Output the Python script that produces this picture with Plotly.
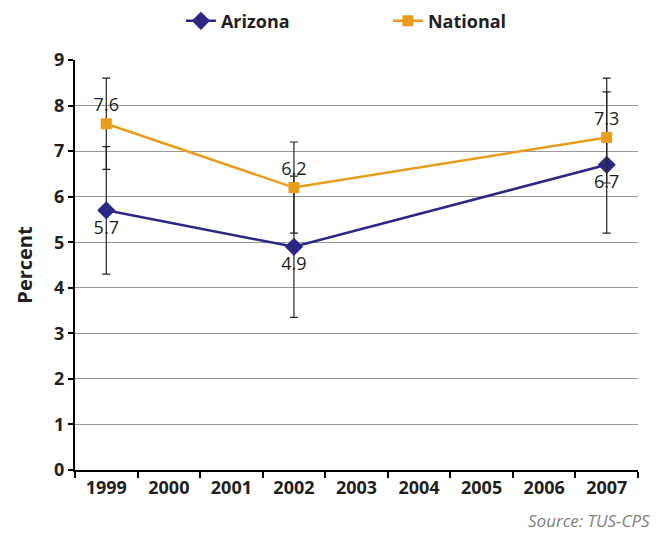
import plotly.graph_objects as go

years = ["1999", "2000", "2001", "2002", "2003", "2004", "2005", "2006", "2007"]
data_years = ["1999", "2002", "2007"]
arizona = [5.7, 4.9, 6.7]
arizona_err_plus = [1.4, 1.55, 1.9]
arizona_err_minus = [1.4, 1.55, 1.5]
national = [7.6, 6.2, 7.3]
national_err_plus = [1.0, 1.0, 1.0]
national_err_minus = [1.0, 1.0, 1.0]
arizona_labels = ["5.7", "4.9", "6.7"]
national_labels = ["7.6", "6.2", "7.3"]

FONT = "Open Sans"
NAVY = "#2B2883"
ORANGE = "#E89C1C"
TXT = "#231F20"

fig = go.Figure()
fig.add_trace(go.Scatter(
    x=data_years, y=arizona, name="Arizona", mode="lines+markers+text",
    line=dict(color=NAVY, width=2.5),
    marker=dict(symbol="diamond", size=14, color=NAVY),
    text=arizona_labels, textposition="bottom center",
    textfont=dict(family=FONT, size=18, color=TXT),
    error_y=dict(type="data", symmetric=False, array=arizona_err_plus,
                 arrayminus=arizona_err_minus, color="#222222", thickness=1.2, width=4),
))
fig.add_trace(go.Scatter(
    x=data_years, y=national, name="National", mode="lines+markers+text",
    line=dict(color=ORANGE, width=2.5),
    marker=dict(symbol="square", size=11, color=ORANGE),
    text=national_labels, textposition="top center",
    textfont=dict(family=FONT, size=18, color=TXT),
    error_y=dict(type="data", symmetric=False, array=national_err_plus,
                 arrayminus=national_err_minus, color="#222222", thickness=1.2, width=4),
))

# page body has an 8px default margin, so the figure is drawn 8px smaller
fig.update_layout(
    width=655, height=525,
    margin=dict(l=67, r=25, t=52, b=63, autoexpand=False),
    paper_bgcolor="white", plot_bgcolor="white",
    font=dict(family=FONT, color=TXT),
    legend=dict(orientation="h", xref="container", yref="container",
                x=0.264, xanchor="left", y=0.975, yanchor="middle",
                entrywidth=162,
                font=dict(family=FONT, size=18, color=TXT, weight="bold")),
    showlegend=True,
)
fig.update_xaxes(
    type="category", categoryorder="array", categoryarray=years,
    range=[-0.5, 8.5], tickson="boundaries", ticks="outside", ticklen=6,
    tickcolor="black", tickwidth=1.5, automargin=False,
    showline=True, linecolor="black", linewidth=2, showgrid=False,
    tickfont=dict(family=FONT, size=18, color=TXT, weight="bold"),
)
fig.update_yaxes(
    range=[0, 9], dtick=1, ticks="outside", ticklen=5, tickcolor="black", tickwidth=1.5,
    showline=True, linecolor="black", linewidth=2, automargin=False,
    showgrid=True, gridcolor="#999999", gridwidth=1, zeroline=False,
    tickfont=dict(family=FONT, size=18, color=TXT, weight="bold"),
    title=dict(text="Percent", font=dict(family=FONT, size=20, color=TXT, weight="bold"),
               standoff=16),
)
fig.add_annotation(
    text="<i>Source: TUS-CPS</i>", xref="paper", yref="paper", x=1.025, y=-0.124,
    xanchor="right", yanchor="middle", showarrow=False,
    font=dict(family=FONT, size=17, color="#808080"),
)
fig.write_html("out.html")
